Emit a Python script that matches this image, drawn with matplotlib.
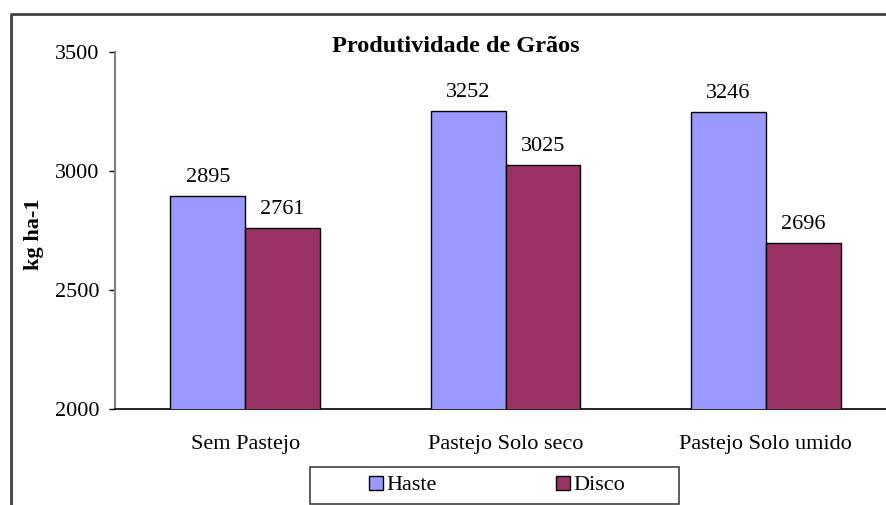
import matplotlib
matplotlib.use("Agg")
import matplotlib.pyplot as plt
import numpy as np
from matplotlib.lines import Line2D
from matplotlib.patches import Rectangle, Patch

categories = ["Sem Pastejo", "Pastejo Solo seco", "Pastejo Solo umido"]
haste = [2895, 3252, 3246]
disco = [2761, 3025, 2696]
series_names = ["Haste", "Disco"]
yticks = [2000, 2500, 3000, 3500]

plt.rcParams['font.family'] = ['Liberation Serif', 'DejaVu Serif']

W, H = 886, 505
fig = plt.figure(figsize=(W / 100, H / 100), dpi=100)
fig.patch.set_facecolor('white')

ax = fig.add_axes([115 / W, 1 - 409 / H, (896 - 115) / W, (409 - 52) / H])
x = np.arange(len(categories))
w = 75 / 261
c_h = '#9999FF'
c_d = '#993366'
b1 = ax.bar(x - w / 2, haste, w, color=c_h, edgecolor='black', linewidth=1.0, zorder=3)
b2 = ax.bar(x + w / 2, disco, w, color=c_d, edgecolor='black', linewidth=1.0, zorder=3)
ax.bar_label(b1, labels=[str(v) for v in haste], padding=6.5, fontsize=16)
ax.bar_label(b2, labels=[str(v) for v in disco], padding=6.5, fontsize=16)

ax.set_xlim(-0.5, 2.5)
ax.set_ylim(2000, 3500)
ax.set_yticks(yticks)
ax.set_yticklabels([str(t) for t in yticks], fontsize=16)
ax.set_xticks(x)
ax.set_xticklabels(categories, fontsize=16)
ax.tick_params(axis='x', length=0, pad=18.5)
ax.tick_params(axis='y', length=4.5, pad=7, color='black', width=1)
for s in ['top', 'right']:
    ax.spines[s].set_visible(False)
ax.spines['left'].set_color('#808080')
ax.spines['left'].set_linewidth(1.5)
ax.spines['bottom'].set_color('black')
ax.spines['bottom'].set_linewidth(1.2)
ax.set_facecolor('white')

fig.text(456 / W, 1 - 47 / H, "Produtividade de Grãos", fontsize=17.5, fontweight='bold',
         ha='center', va='center')
fig.text(34 / W, 1 - 234 / H, "kg ha-1", fontsize=16, fontweight='bold',
         rotation=90, ha='center', va='center')

# outer frame (left and top visible)
fig.add_artist(Line2D([11 / W, 11 / W, 1.0], [0.0, 1 - 14 / H, 1 - 14 / H],
                      transform=fig.transFigure, color='#404040', linewidth=2))

# legend box
fig.add_artist(Rectangle((310 / W, 1 - 504 / H), 369 / W, 37 / H, transform=fig.transFigure,
                         facecolor='white', edgecolor='#404040', linewidth=1.2))
handles = [Patch(facecolor=c_h, edgecolor='black', linewidth=1.0),
           Patch(facecolor=c_d, edgecolor='black', linewidth=1.0)]
fig.legend(handles, series_names, loc='center', bbox_to_anchor=(497 / W, 1 - 485.5 / H),
           ncol=2, frameon=False, fontsize=16, handlelength=0.6, handleheight=0.6,
           handletextpad=0.15, columnspacing=5.4, borderpad=0, borderaxespad=0)

fig.savefig("out.png", dpi=100, facecolor='white')
